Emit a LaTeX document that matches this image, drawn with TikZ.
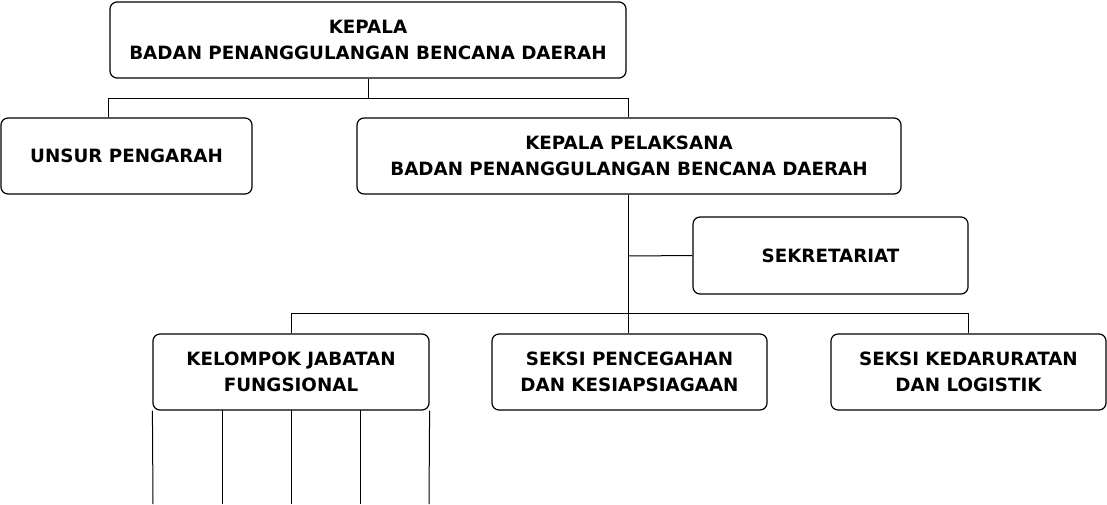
\documentclass[tikz,border=0pt]{standalone}
\usepackage{fontspec}
\setmainfont{DejaVu Sans}
\begin{document}
\begin{tikzpicture}[x=1pt,y=-1pt,
 bx/.style={draw,line width=1.2pt,rounded corners=7pt,align=center,font=\fontsize{18.3}{26}\selectfont\bfseries,inner sep=0pt},
 ln/.style={draw,line width=1pt}]
\useasboundingbox (0,0) rectangle (1107,504);
\fill[white] (0,0) rectangle (1107,504);
\node[bx,minimum width=516pt,minimum height=76pt] (k) at (368,40) {KEPALA\\BADAN PENANGGULANGAN BENCANA DAERAH};
\node[bx,minimum width=251pt,minimum height=76pt] (u) at (126.5,156) {UNSUR PENGARAH};
\node[bx,minimum width=544pt,minimum height=76pt] (p) at (629,156) {KEPALA PELAKSANA\\BADAN PENANGGULANGAN BENCANA DAERAH};
\node[bx,minimum width=275pt,minimum height=77pt] (s) at (830.5,255.5) {SEKRETARIAT};
\node[bx,minimum width=276pt,minimum height=76pt] (f) at (291,372) {KELOMPOK JABATAN\\FUNGSIONAL};
\node[bx,minimum width=275pt,minimum height=76pt] (c) at (629.5,372) {SEKSI PENCEGAHAN\\DAN KESIAPSIAGAAN};
\node[bx,minimum width=275pt,minimum height=76pt] (d) at (968.5,372) {SEKSI KEDARURATAN\\DAN LOGISTIK};
\coordinate (t) at (368,98);
\draw[ln] (k.south) -- (t);
\draw[ln] (u.north -| 108,0) -- (108,98) -- (628,98) -- (p.north -| 628,0);
\draw[ln] (p.south -| 628,0) -- (628,313);
\draw[ln] (628,256) -- (s.west);
\draw[ln] (f.north) -- (291,313) -- (968,313) -- (d.north -| 968,0);
\draw[ln] (628,313) -- (c.north -| 628,0);
\draw[ln] (f.south west) -- (153,504);
\draw[ln] (f.south east) -- (429,504);
\foreach \x in {222,291,360} \draw[ln] (\x,410) -- (\x,504);
\end{tikzpicture}
\end{document}
